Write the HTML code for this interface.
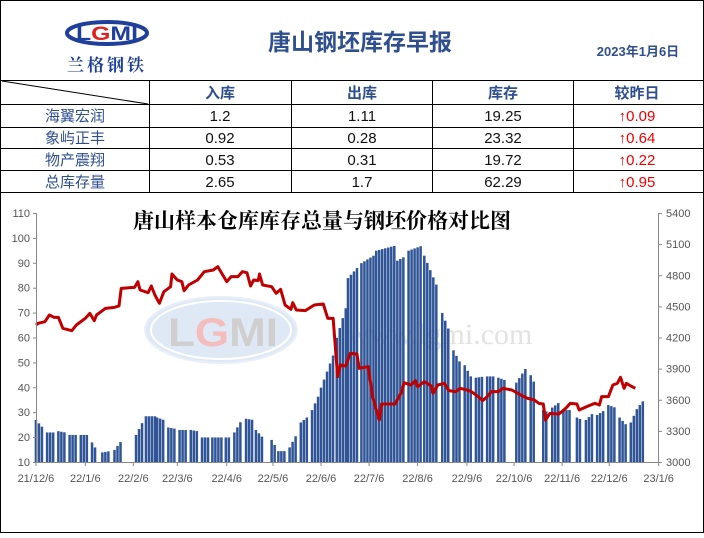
<!DOCTYPE html>
<html><head><meta charset="utf-8"><style>
body{margin:0;width:704px;height:533px;overflow:hidden;background:#fff;font-family:"Liberation Sans","Noto Sans CJK SC",sans-serif}
</style></head><body>
<svg id="s" width="704" height="533" xmlns="http://www.w3.org/2000/svg" font-family="Liberation Sans, Noto Sans CJK SC, sans-serif">
<rect x="0.5" y="0.5" width="703" height="532" fill="#fff" stroke="#000"/>
<!-- logo -->
<ellipse cx="107" cy="33" rx="40" ry="11" fill="none" stroke="#1f3f9a" stroke-width="4"/>
<text x="107" y="40" font-size="19" font-weight="bold" text-anchor="middle" fill="#1f3f9a" font-family="Liberation Sans" textLength="62" lengthAdjust="spacingAndGlyphs">L<tspan fill="#e02020">G</tspan>MI</text>
<text x="107" y="71" font-size="17" font-weight="bold" text-anchor="middle" fill="#1f3f9a" font-family="Noto Serif CJK SC, serif" letter-spacing="3">兰格钢铁</text>
<text x="360" y="50" font-size="23" font-weight="bold" text-anchor="middle" fill="#2f4f8f">唐山钢坯库存早报</text>
<text x="638" y="56" font-size="13" font-weight="bold" text-anchor="middle" fill="#2f4f8f">2023年1月6日</text>
<!-- table -->
<g stroke="#000" stroke-width="1">
<line x1="0" y1="80.5" x2="704" y2="80.5"/>
<line x1="0" y1="104.5" x2="704" y2="104.5"/>
<line x1="0" y1="127.5" x2="704" y2="127.5"/>
<line x1="0" y1="148.5" x2="704" y2="148.5"/>
<line x1="0" y1="170.5" x2="704" y2="170.5"/>
<line x1="0" y1="192.5" x2="704" y2="192.5"/>
<line x1="149.5" y1="80" x2="149.5" y2="193"/>
<line x1="291.5" y1="80" x2="291.5" y2="193"/>
<line x1="432.5" y1="80" x2="432.5" y2="193"/>
<line x1="573.5" y1="80" x2="573.5" y2="193"/>
<line x1="2" y1="81" x2="148" y2="104"/>
</g>
<g font-size="15" font-weight="bold" fill="#2f4f8f" text-anchor="middle">
<text x="220" y="98">入库</text><text x="362" y="98">出库</text><text x="503" y="98">库存</text><text x="637" y="98">较昨日</text>
</g>
<g font-size="15" fill="#2f4f8f" text-anchor="middle">
<text x="75" y="121">海翼宏润</text><text x="75" y="143">象屿正丰</text><text x="75" y="165">物产震翔</text><text x="75" y="187">总库存量</text>
</g>
<g font-size="15" fill="#111" text-anchor="middle">
<text x="220" y="121">1.2</text><text x="362" y="121">1.11</text><text x="503" y="121">19.25</text>
<text x="220" y="143">0.92</text><text x="362" y="143">0.28</text><text x="503" y="143">23.32</text>
<text x="220" y="165">0.53</text><text x="362" y="165">0.31</text><text x="503" y="165">19.72</text>
<text x="220" y="187">2.65</text><text x="362" y="187">1.7</text><text x="503" y="187">62.29</text>
</g>
<g font-size="15" fill="#e00" text-anchor="middle">
<text x="637" y="121">↑0.09</text><text x="637" y="143">↑0.64</text><text x="637" y="165">↑0.22</text><text x="637" y="187">↑0.95</text>
</g>
<!-- watermark -->
<ellipse cx="221" cy="330" rx="76" ry="33" fill="#dfe9f5" stroke="#e8eff8" stroke-width="2"/>
<ellipse cx="221" cy="330" rx="70" ry="29" fill="none" stroke="#fff" stroke-width="2"/>
<text x="223" y="346" font-size="40" font-weight="bold" text-anchor="middle" fill="#cfcfcf" textLength="110" lengthAdjust="spacingAndGlyphs">L<tspan fill="#f4bcbc">G</tspan>MI</text>
<text x="440" y="344" font-size="30" text-anchor="middle" fill="#e2e2e2" font-family="Liberation Serif, serif">www.lgmi.com</text>
<text x="322" y="228" font-size="21" font-weight="bold" text-anchor="middle" fill="#000" font-family="Noto Serif CJK SC, serif">唐山样本仓库库存总量与钢坯价格对比图</text>
<g id="plot" transform="translate(0,200) scale(0.44898,0.33333)"></g>
<line x1="36.5" y1="213" x2="36.5" y2="463" stroke="#888"/>
<line x1="658.5" y1="213" x2="658.5" y2="463" stroke="#888"/>
<line x1="36" y1="462.5" x2="659" y2="462.5" stroke="#888"/>
<g id="ax" font-size="11" fill="#555"></g>
</svg>
<script>
var NS="http://www.w3.org/2000/svg",p=document.getElementById('plot'),ax=document.getElementById('ax');
function el(t,a,par,txt){var e=document.createElementNS(NS,t);for(var k in a)e.setAttribute(k,a[k]);if(txt!=null)e.textContent=txt;par.appendChild(e);return e;}
var segs=[[80,95,27,24],[105,120,22,22],[130,145,22.5,22],[155,170,21,21],[180,195,21,21],[205,215,18,15],[228,245,14,14.5],[255,272,15,19],[303,320,21,27],[325,345,28.5,28.5],[350,365,28,27],[375,390,24,23.5],[400,415,23,23],[425,440,23,22.5],[450,465,20,20],[473,495,20,20],[503,515,20,20],[522,540,22,27.5],[548,565,27.5,27],[570,585,23,20],[605,615,19,16],[620,635,14.5,14.5],[645,660,16,21],[670,690,26,29],[695,710,31,37],[715,742,40,53],[750,772,60,73],[775,800,84,89],[805,832,90,93],[838,880,95,97],[885,905,91,93],[910,940,95,97],[945,975,93,80],[985,1000,70,63],[1010,1025,55,50],[1035,1050,49,44],[1060,1080,44,44.5],[1085,1105,44.5,44.5],[1110,1125,44,43],[1150,1172,42,48],[1182,1195,45,40],[1210,1222,31,30],[1230,1245,32,34],[1255,1275,31,31],[1285,1297,28,27],[1305,1322,27,30],[1330,1347,29,31],[1355,1370,33,32],[1380,1395,28,25],[1405,1420,26,32],[1425,1434,33,35]];
segs.forEach(function(s){for(var x=s[0];x<=s[1]+0.1;x+=6.7){var t=(s[1]==s[0])?0:(x-s[0])/(s[1]-s[0]);var v=s[2]+(s[3]-s[2])*Math.min(1,t);var y=787-(v-10)*7.47;el('rect',{x:x-2.8,y:y,width:5.6,height:787-y,fill:'#2f5597'},p);}});
var L=[80,375,85,370,100,365,110,345,120,352,130,352,140,385,160,392,170,375,190,355,200,340,210,362,215,345,235,325,255,322,265,318,270,265,300,262,307,245,312,270,330,278,337,258,345,285,355,310,365,275,380,260,383,222,395,240,405,245,410,272,420,255,440,240,455,215,475,210,485,200,505,245,515,230,530,230,540,215,550,218,558,258,565,240,575,242,578,222,585,255,605,260,615,280,625,268,635,315,648,328,652,308,660,330,680,332,700,315,720,312,730,355,742,355,752,530,758,495,770,498,780,460,795,462,800,505,820,500,830,590,845,660,850,612,880,612,895,575,900,548,915,555,925,542,930,560,945,545,960,557,965,580,975,555,990,550,1000,572,1015,575,1025,565,1040,570,1050,575,1065,590,1075,602,1085,590,1095,575,1110,575,1120,565,1140,570,1160,585,1175,595,1190,600,1200,610,1210,612,1215,660,1225,640,1245,642,1260,625,1270,610,1285,612,1290,630,1310,618,1325,610,1335,615,1340,590,1355,590,1365,555,1375,550,1382,532,1390,565,1395,550,1405,558,1415,565];
el('polyline',{points:L.join(' '),fill:'none',stroke:'#c00000','stroke-width':3,'vector-effect':'non-scaling-stroke','stroke-linejoin':'round'},p);
for(var i=0;i<=10;i++){var v=10+i*10,y=462-i*24.9;el('text',{x:30,y:y+4,'text-anchor':'end'},ax,v);el('line',{x1:33,y1:y+.5,x2:36,y2:y+.5,stroke:'#888'},ax);}
for(var i=0;i<=8;i++){var v=3000+i*300,y=462-i*31.125;el('text',{x:666,y:y+4},ax,v);el('line',{x1:659,y1:y+.5,x2:662,y2:y+.5,stroke:'#888'},ax);}
var xt=[80,190,297,395,505,608,715,822,930,1040,1145,1252,1357,1467],xl=['21/12/6','22/1/6','22/2/6','22/3/6','22/4/6','22/5/6','22/6/6','22/7/6','22/8/6','22/9/6','22/10/6','22/11/6','22/12/6','23/1/6'];
xt.forEach(function(z,i){var x=z*0.44898;el('line',{x1:x,y1:462,x2:x,y2:466,stroke:'#888'},ax);el('text',{x:x,y:482,'text-anchor':'middle'},ax,xl[i]);});
</script>
</body></html>
